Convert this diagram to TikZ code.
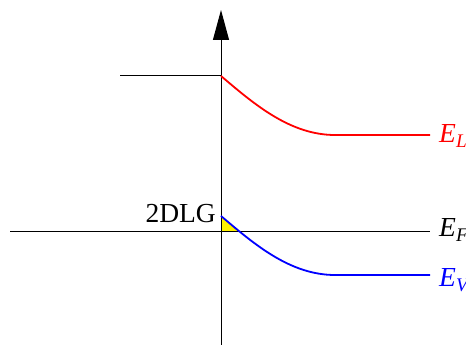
\documentclass[tikz,border=0pt]{standalone}
\usepackage{fontspec}
\setmainfont{Liberation Serif}
\usetikzlibrary{arrows.meta}
\begin{document}
\begin{tikzpicture}[x=1pt,y=1pt,
  axis/.style={line width=1pt,black},
  band/.style={line width=1.8pt},
  lbl/.style={font=\fontsize{27.5}{28}\selectfont, inner sep=0pt, anchor=base west}]
\useasboundingbox (0,0) rectangle (466,345);
\begin{scope}
\clip (0,0) rectangle (466,345);
% coordinates: y = 345 - ypx
\coordinate (ab) at (221,0);
\coordinate (at) at (221,335);
\coordinate (tl) at (120,269);
\coordinate (t0) at (221,269);
\coordinate (r1) at (335,210);
\coordinate (r2) at (430,210);
\coordinate (fl) at (10,113);
\coordinate (fr) at (430,113);
\coordinate (b0) at (221,129);
\coordinate (b1) at (335,70);
\coordinate (b2) at (430,70);
\coordinate (f0) at (221,113);
\begin{scope}
\clip (221,113) rectangle (280,140);
\fill[yellow] (b0) .. controls (254,101) and (290,70) .. (b1) -- (221,70) -- cycle;
\end{scope}
\draw[axis,-{Triangle[length=30pt,width=16pt]}] (ab) -- (at);
\draw[axis] (tl) -- (t0);
\draw[axis] (fl) -- (fr);
\draw[band,red] (t0) .. controls (254,241) and (290,210) .. (r1) -- (r2);
\draw[band,blue] (b0) .. controls (254,101) and (290,70) .. (b1) -- (b2);
\node[lbl,red] (el) at (439,202) {\textit{E}\textsubscript{\textit{L}}};
\node[lbl] (ef) at (439,108) {\textit{E}\textsubscript{\textit{F}}};
\node[lbl,blue] (ev) at (439,58) {\textit{E}\textsubscript{\textit{V}}};
\node[lbl,anchor=base east] (dl) at (216,122) {2DLG};
\end{scope}
\end{tikzpicture}
\end{document}
